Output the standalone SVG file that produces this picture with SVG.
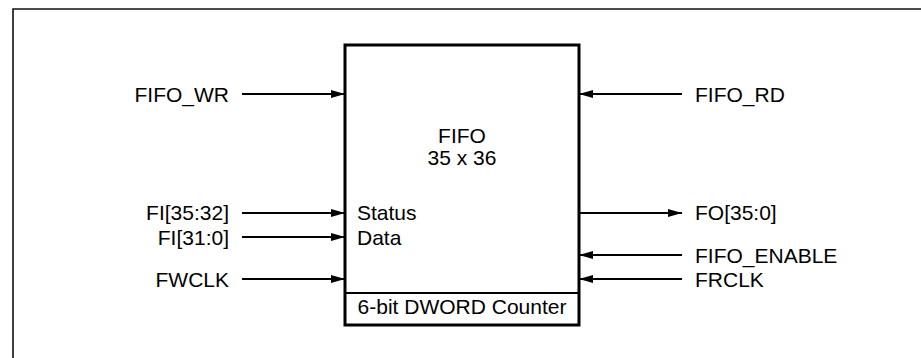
<svg xmlns="http://www.w3.org/2000/svg" width="921" height="358" viewBox="0 0 921 358">
<style>
text{font-family:"Liberation Sans",Arial,Helvetica,sans-serif;font-size:21px;fill:#000}
.c line{stroke:#000;stroke-width:1.8;marker-end:url(#ah)}
.box{fill:#fff;stroke:#000;stroke-width:3}
.frame{fill:none;stroke:#111;stroke-width:1.6}
</style>
<defs>
<marker id="ah" markerUnits="userSpaceOnUse" markerWidth="14" markerHeight="8" refX="14" refY="4" orient="auto">
<path d="M0,0 L14,4 L0,8 z" fill="#000"/>
</marker>
</defs>
<rect width="921" height="358" fill="#fff"/>
<path class="frame" d="M13,358 L13,9 L921,9"/>
<g id="fifo">
<rect class="box" x="345" y="45" width="234" height="280"/>
<line x1="345" y1="293" x2="579" y2="293" stroke="#000" stroke-width="2"/>
<text x="462" y="143" text-anchor="middle">FIFO</text>
<text x="462" y="164.5" text-anchor="middle">35 x 36</text>
<text x="357" y="220">Status</text>
<text x="357" y="245">Data</text>
<text x="462" y="314" text-anchor="middle">6-bit DWORD Counter</text>
</g>
<g id="labels">
<text x="229" y="101.5" text-anchor="end">FIFO_WR</text>
<text x="229" y="220" text-anchor="end">FI[35:32]</text>
<text x="229" y="245" text-anchor="end">FI[31:0]</text>
<text x="229" y="286.5" text-anchor="end">FWCLK</text>
<text x="695" y="101.5">FIFO_RD</text>
<text x="695" y="220">FO[35:0]</text>
<text x="695" y="262.5">FIFO_ENABLE</text>
<text x="695" y="286.5">FRCLK</text>
</g>
<g class="c" id="connectors">
<line x1="242" y1="94" x2="345" y2="94"/>
<line x1="242" y1="213" x2="345" y2="213"/>
<line x1="242" y1="237" x2="345" y2="237"/>
<line x1="242" y1="279" x2="345" y2="279"/>
<line x1="682" y1="94" x2="579" y2="94"/>
<line x1="579" y1="213" x2="682" y2="213"/>
<line x1="682" y1="255" x2="579" y2="255"/>
<line x1="682" y1="279" x2="579" y2="279"/>
</g>
</svg>
